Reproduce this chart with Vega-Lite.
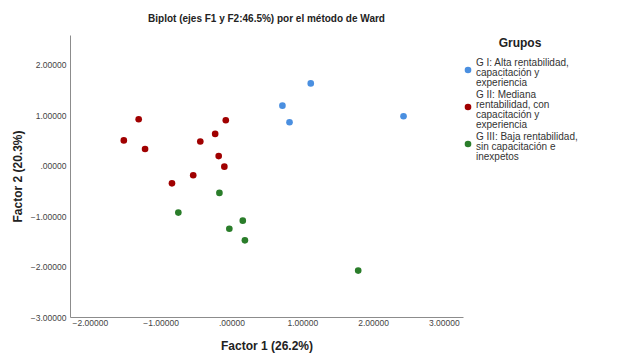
{
  "$schema": "https://vega.github.io/schema/vega-lite/v6.json",
  "width": 393,
  "height": 282,
  "autosize": {"type": "none"},
  "padding": {"left": 70, "top": 35, "right": 156, "bottom": 47},
  "background": "white",
  "title": {
    "text": "Biplot (ejes F1 y F2:46.5%) por el método de Ward",
    "font": "Liberation Sans",
    "fontSize": 10,
    "fontWeight": "bold",
    "color": "#222222",
    "anchor": "middle",
    "offset": 11
  },
  "data": {
    "values": [
      {"f1": 0.72, "f2": 1.19, "grupo": "G I: Alta rentabilidad,|capacitación y|experiencia"},
      {"f1": 1.12, "f2": 1.63, "grupo": "G I: Alta rentabilidad,|capacitación y|experiencia"},
      {"f1": 0.82, "f2": 0.86, "grupo": "G I: Alta rentabilidad,|capacitación y|experiencia"},
      {"f1": 2.43, "f2": 0.98, "grupo": "G I: Alta rentabilidad,|capacitación y|experiencia"},
      {"f1": -1.52, "f2": 0.50, "grupo": "G II: Mediana|rentabilidad, con|capacitación y|experiencia"},
      {"f1": -1.31, "f2": 0.92, "grupo": "G II: Mediana|rentabilidad, con|capacitación y|experiencia"},
      {"f1": -1.22, "f2": 0.33, "grupo": "G II: Mediana|rentabilidad, con|capacitación y|experiencia"},
      {"f1": -0.08, "f2": 0.90, "grupo": "G II: Mediana|rentabilidad, con|capacitación y|experiencia"},
      {"f1": -0.23, "f2": 0.63, "grupo": "G II: Mediana|rentabilidad, con|capacitación y|experiencia"},
      {"f1": -0.44, "f2": 0.48, "grupo": "G II: Mediana|rentabilidad, con|capacitación y|experiencia"},
      {"f1": -0.18, "f2": 0.19, "grupo": "G II: Mediana|rentabilidad, con|capacitación y|experiencia"},
      {"f1": -0.10, "f2": -0.02, "grupo": "G II: Mediana|rentabilidad, con|capacitación y|experiencia"},
      {"f1": -0.54, "f2": -0.19, "grupo": "G II: Mediana|rentabilidad, con|capacitación y|experiencia"},
      {"f1": -0.84, "f2": -0.35, "grupo": "G II: Mediana|rentabilidad, con|capacitación y|experiencia"},
      {"f1": -0.17, "f2": -0.54, "grupo": "G III: Baja rentabilidad,|sin capacitación e|inexpetos"},
      {"f1": -0.75, "f2": -0.93, "grupo": "G III: Baja rentabilidad,|sin capacitación e|inexpetos"},
      {"f1": 0.16, "f2": -1.09, "grupo": "G III: Baja rentabilidad,|sin capacitación e|inexpetos"},
      {"f1": -0.03, "f2": -1.25, "grupo": "G III: Baja rentabilidad,|sin capacitación e|inexpetos"},
      {"f1": 0.19, "f2": -1.48, "grupo": "G III: Baja rentabilidad,|sin capacitación e|inexpetos"},
      {"f1": 1.79, "f2": -2.08, "grupo": "G III: Baja rentabilidad,|sin capacitación e|inexpetos"}
    ]
  },
  "mark": {"type": "circle", "size": 44, "opacity": 1},
  "encoding": {
    "x": {
      "field": "f1",
      "type": "quantitative",
      "scale": {"domain": [-2.28, 3.27], "nice": false, "zero": false},
      "axis": {
        "title": "Factor 1 (26.2%)",
        "values": [-2, -1, 0, 1, 2, 3],
        "labelExpr": "datum.value == 0 ? '.00000' : format(datum.value, '.5f')",
        "grid": false,
        "ticks": false,
        "domainColor": "#8c8c8c",
        "labelFont": "Liberation Sans",
        "labelFontSize": 8.5,
        "labelColor": "#444444",
        "labelPadding": 1,
        "titleFont": "Liberation Sans",
        "titleFontSize": 12,
        "titleFontWeight": "bold",
        "titleColor": "#222222",
        "titlePadding": 14
      }
    },
    "y": {
      "field": "f2",
      "type": "quantitative",
      "scale": {"domain": [-3, 2.59], "nice": false, "zero": false},
      "axis": {
        "title": "Factor 2 (20.3%)",
        "values": [-3, -2, -1, 0, 1, 2],
        "labelExpr": "datum.value == 0 ? '.00000' : format(datum.value, '.5f')",
        "grid": false,
        "ticks": false,
        "domainColor": "#8c8c8c",
        "labelFont": "Liberation Sans",
        "labelFontSize": 8.5,
        "labelColor": "#444444",
        "labelPadding": 4,
        "titleFont": "Liberation Sans",
        "titleFontSize": 12,
        "titleFontWeight": "bold",
        "titleColor": "#222222",
        "titlePadding": 6
      }
    },
    "color": {
      "field": "grupo",
      "type": "nominal",
      "scale": {
        "domain": [
          "G I: Alta rentabilidad,|capacitación y|experiencia",
          "G II: Mediana|rentabilidad, con|capacitación y|experiencia",
          "G III: Baja rentabilidad,|sin capacitación e|inexpetos"
        ],
        "range": ["#4a8fe0", "#a00000", "#2a7d2a"]
      },
      "legend": {
        "title": "Grupos",
        "orient": "none",
        "legendX": 393,
        "legendY": 3,
        "titleFont": "Liberation Sans",
        "titleFontSize": 12,
        "titleFontWeight": "bold",
        "titleColor": "#222222",
        "titleAnchor": "middle",
        "titlePadding": 8,
        "labelExpr": "split(datum.label, '|')",
        "labelFont": "Liberation Sans",
        "labelFontSize": 10,
        "labelColor": "#333333",
        "labelLimit": 300,
        "labelOffset": 3,
        "symbolType": "circle",
        "symbolSize": 44,
        "symbolOpacity": 1,
        "rowPadding": 2,
        "padding": 0,
        "encode": {
          "labels": {
            "update": {
              "lineHeight": {"value": 10}
            }
          },
          "symbols": {
            "update": {
              "y": {"signal": "2 + (length(split(datum.label, '|')) - 1) * 10 / 2"}
            }
          }
        }
      }
    }
  },
  "config": {"view": {"stroke": null}}
}
